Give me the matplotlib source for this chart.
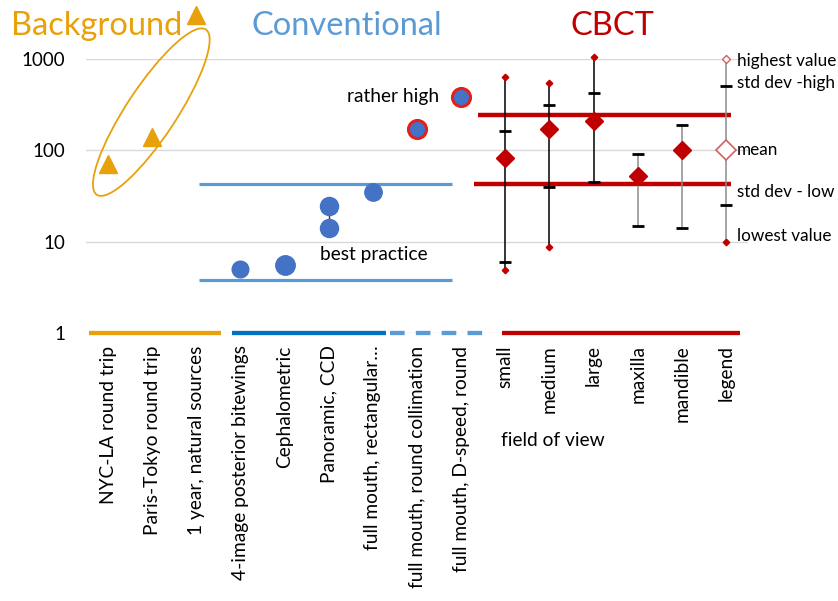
import numpy as np
import matplotlib
matplotlib.use("Agg")
import matplotlib.pyplot as plt
from matplotlib.patches import Ellipse
from matplotlib.transforms import ScaledTranslation, blended_transform_factory

plt.rcParams['font.family'] = ['Lato', 'DejaVu Sans']

# ---- categories -------------------------------------------------------------
categories = [
    "NYC-LA round trip", "Paris-Tokyo round trip", "1 year, natural sources",
    "4-image posterior bitewings", "Cephalometric", "Panoramic, CCD",
    "full mouth, rectangular…", "full mouth, round collimation",
    "full mouth, D-speed, round",
    "small", "medium", "large", "maxilla", "mandible", "legend",
]

# ---- background exposures (µSv) ------------------------------------------------
background_idx = [0, 1, 2]
background_vals = [70, 140, 3000]

# ---- conventional dental radiography (µSv) -----------------------------------
conv_idx = [3, 4, 5, 5, 6]
conv_vals = [5.0, 5.6, 14.2, 24.3, 34.9]
conv_sizes = [12, 14, 13, 13, 12.5]
conv_high_idx = [7, 8]
conv_high_vals = [170.7, 388]
conv_band = [3.8, 43]
conv_band_span = [2.06, 7.79]

# ---- CBCT by field of view (µSv) ---------------------------------------------
cbct_idx = [9, 10, 11, 12, 13]
cbct_mean = [83, 172, 210, 52, 100]
cbct_sd_high = [163, 314, 425, 92, 190]
cbct_sd_low = [6.0, 40, 45, 15, 14]
cbct_max = [635, 547, 1055, np.nan, np.nan]
cbct_min = [4.9, 8.7, np.nan, np.nan, np.nan]
cbct_line_color = ["black", "black", "black", "#8C8C8C", "#8C8C8C"]
cbct_band = [43, 244]
cbct_band_span = [[8.29, 14.12], [8.38, 14.12]]

# ---- legend column ------------------------------------------------------------
legend_idx = 14
legend_mean, legend_high, legend_sd_high, legend_sd_low, legend_low = 100, 1000, 500, 25, 10
legend_texts = ["highest value", "std dev -high", "mean", "std dev - low", "lowest value"]
legend_text_y = [950, 540, 100, 35, 11.5]

# ---- group bars along the baseline ------------------------------------------
group_spans = [(-0.43, 2.56), (2.81, 6.30), (6.39, 8.65), (8.93, 14.32)]
group_colors = ["#E8A10A", "#0070C0", "#5B9BD5", "#C00000"]
group_styles = ["-", "-", (0, (3.4, 2.6)), "-"]

titles = ["Background", "Conventional", "CBCT"]
title_x = [-0.25, 5.41, 11.42]
title_colors = ["#E8A10A", "#5B9BD5", "#C00000"]

ORANGE = "#E8A10A"
BLUE = "#4472C4"
LBLUE = "#5B9BD5"
RED = "#C00000"
FS = 13.8

W, H = 838, 601
fig = plt.figure(figsize=(W / 100, H / 100), dpi=100)
ax = fig.add_axes([86 / W, 1 - 333 / H, 662 / W, 274 / H])

ax.set_yscale("log")
ax.set_ylim(1, 1000)
ax.set_xlim(-0.5, len(categories) - 0.5)
ax.set_yticks([1, 10, 100, 1000])
ax.set_yticklabels(["1", "10", "100", "1000"], fontsize=13.5)
ax.yaxis.set_minor_locator(matplotlib.ticker.NullLocator())
ax.set_xticks(range(len(categories)))
ax.set_xticklabels(categories, rotation=90, fontsize=FS, va="top", ha="center")
ax.tick_params(axis="both", length=0)
ax.tick_params(axis="x", pad=9)
ax.tick_params(axis="y", pad=15)
for s in ax.spines.values():
    s.set_visible(False)
ax.grid(axis="y", color="#D9D9D9", lw=1)
ax.set_axisbelow(True)

# baseline group bars
for (x0, x1), c, ls in zip(group_spans, group_colors, group_styles):
    ax.plot([x0, x1], [1, 1], color=c, lw=3.1, ls=ls, solid_capstyle="butt",
            dash_capstyle="butt", clip_on=False, zorder=3)

# background
ax.plot(background_idx, background_vals, "^", color=ORANGE, ms=13, mec=ORANGE,
        ls="none", clip_on=False, zorder=5)
ell_tr = fig.dpi_scale_trans + ScaledTranslation(0.98, 262, ax.transData)
ax.add_patch(Ellipse((0, 0), width=1.98, height=0.50, angle=56.6, fill=False,
                     ec=ORANGE, lw=1.3, transform=ell_tr, clip_on=False))

# conventional
for y in conv_band:
    ax.plot(conv_band_span, [y, y], color=LBLUE, lw=2.3, solid_capstyle="butt", zorder=2)
ax.plot([5, 5], [conv_vals[2], conv_vals[3]], color="#333333", lw=1, zorder=3)
for x, v, s in zip(conv_idx, conv_vals, conv_sizes):
    ax.plot([x], [v], "o", color=BLUE, ms=s, mec=BLUE, zorder=5)
ax.plot(conv_high_idx, conv_high_vals, "o", color=BLUE, ms=13, mec="#E3201B",
        mew=2.2, ls="none", zorder=5)
ax.text(7.5, 388, "rather high", ha="right", va="center", fontsize=FS)
ax.text(4.8, 7.2, "best practice", ha="left", va="center", fontsize=FS)

# CBCT
for y, span in zip(cbct_band, cbct_band_span):
    ax.plot(span, [y, y], color=RED, lw=3.2, solid_capstyle="butt", zorder=2)
for x, m, hi, lo, mx, mn, lc in zip(cbct_idx, cbct_mean, cbct_sd_high, cbct_sd_low,
                                      cbct_max, cbct_min, cbct_line_color):
    top = mx if not np.isnan(mx) else hi
    bot = mn if not np.isnan(mn) else lo
    ax.plot([x, x], [bot, top], color=lc, lw=1.1, zorder=3, clip_on=False)
    ax.plot([x, x], [lo, hi], "_", color="black", ms=8, mew=2, ls="none", zorder=4)
    if not np.isnan(mx):
        ax.plot([x], [mx], "D", color=RED, ms=3.3, zorder=4, clip_on=False)
    if not np.isnan(mn):
        ax.plot([x], [mn], "D", color=RED, ms=3.3, zorder=4, clip_on=False)
    ax.plot([x], [m], "D", color=RED, ms=9, zorder=5)

# legend column
ax.plot([legend_idx, legend_idx], [legend_low, legend_high], color="#8C8C8C", lw=1.1, zorder=3)
ax.plot([legend_idx, legend_idx], [legend_sd_low, legend_sd_high], "_", color="black",
        ms=8, mew=2, ls="none", zorder=4)
ax.plot([legend_idx], [legend_high], "D", mfc="white", mec="#D06060", ms=3.6, mew=1, zorder=5,
        clip_on=False)
ax.plot([legend_idx], [legend_low], "D", color=RED, ms=3.3, zorder=5)
ax.plot([legend_idx], [legend_mean], "D", mfc="white", mec="#D06060", ms=10, mew=1.2, zorder=5)
for t, y in zip(legend_texts, legend_text_y):
    ax.text(legend_idx + 0.25, y, t, ha="left", va="center", fontsize=12.3, clip_on=False)

# group titles
tt = blended_transform_factory(ax.transData, fig.transFigure)
for t, x, c in zip(titles, title_x, title_colors):
    ax.text(x, 1 - 26 / H, t, ha="center", va="center", fontsize=23.5, color=c, transform=tt)
ax.text(8.9, 1 - 441 / H, "field of view", ha="left", va="center", fontsize=FS,
        transform=tt)

fig.savefig("out.png", dpi=100)
